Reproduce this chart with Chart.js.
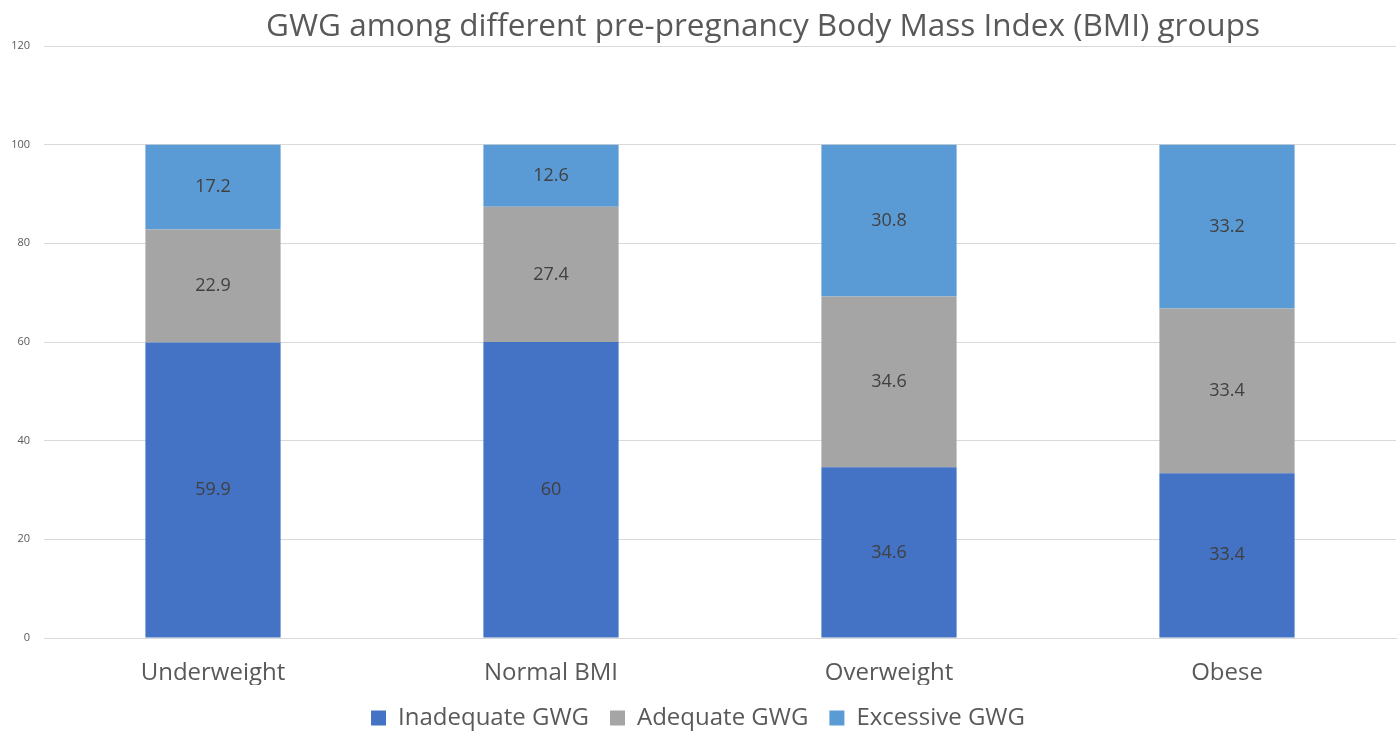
<!DOCTYPE html>
<html>
<head>
<meta charset="utf-8">
<script src="https://cdn.jsdelivr.net/npm/chart.js@4"></script>
<style>
  html, body { margin: 0; padding: 0; background: #fff; }
  #wrap { width: 1398px; height: 732px; }
</style>
</head>
<body>
<div id="wrap"><canvas id="gwgChart"></canvas></div>
<script>
const groups = ["Underweight", "Normal BMI", "Overweight", "Obese"];
const inadequate = [59.9, 60, 34.6, 33.4];
const adequate = [22.9, 27.4, 34.6, 33.4];
const excessive = [17.2, 12.6, 30.8, 33.2];
const yTicks = [0, 20, 40, 60, 80, 100, 120];
const titleText = "GWG among different pre-pregnancy Body Mass Index (BMI) groups";

const FONT = "'Open Sans', 'Noto Sans', sans-serif";

// title drawn a bit right of center, like the original
const titlePlugin = {
  id: "offsetTitle",
  afterDraw(chart) {
    const c = chart.ctx;
    c.save();
    c.font = "31.5px " + FONT;
    c.fillStyle = "#595959";
    c.textAlign = "center";
    c.textBaseline = "middle";
    c.fillText(titleText, 763, 27);
    c.restore();
  },
};

// value labels in the middle of each segment
const valueLabels = {
  id: "valueLabels",
  afterDatasetsDraw(chart) {
    const c = chart.ctx;
    c.save();
    c.font = "18px " + FONT;
    c.fillStyle = "#404040";
    c.textAlign = "center";
    c.textBaseline = "middle";
    chart.data.datasets.forEach((ds, i) => {
      chart.getDatasetMeta(i).data.forEach((bar, j) => {
        const mid = (bar.y + bar.base) / 2;
        c.fillText(String(ds.data[j]), bar.x, mid);
      });
    });
    c.restore();
  },
};

new Chart(document.getElementById("gwgChart"), {
  type: "bar",
  data: {
    labels: groups,
    datasets: [
      { label: "Inadequate GWG", data: inadequate, backgroundColor: "#4472C4" },
      { label: "Adequate GWG", data: adequate, backgroundColor: "#A5A5A5" },
      { label: "Excessive GWG", data: excessive, backgroundColor: "#5B9BD5" },
    ],
  },
  options: {
    responsive: true,
    maintainAspectRatio: false,
    animation: false,
    categoryPercentage: 1,
    barPercentage: 0.4,
    layout: { padding: { top: 46, right: 2, bottom: -8, left: 0 } },
    plugins: {
      title: { display: false },
      tooltip: { enabled: false },
      legend: {
        position: "bottom",
        labels: {
          font: { family: FONT, size: 24, lineHeight: 1 },
          color: "#595959",
          boxWidth: 15,
          boxHeight: 15,
          padding: 21,
        },
      },
    },
    scales: {
      x: {
        stacked: true,
        afterFit(scale) {
          scale.height = 47;
        },
        grid: { display: false, drawTicks: false },
        border: { color: "#D9D9D9" },
        ticks: { font: { family: FONT, size: 24, lineHeight: 1 }, color: "#595959", padding: 23 },
      },
      y: {
        stacked: true,
        min: 0,
        max: 120,
        afterBuildTicks(scale) {
          scale.ticks = yTicks.map((v) => ({ value: v }));
        },
        afterFit(scale) {
          scale.width = 44;
        },
        grid: { color: "#D9D9D9", drawTicks: false },
        border: { display: false },
        ticks: { font: { family: FONT, size: 11 }, color: "#595959", padding: 14 },
      },
    },
  },
  plugins: [titlePlugin, valueLabels],
});
</script>
</body>
</html>
